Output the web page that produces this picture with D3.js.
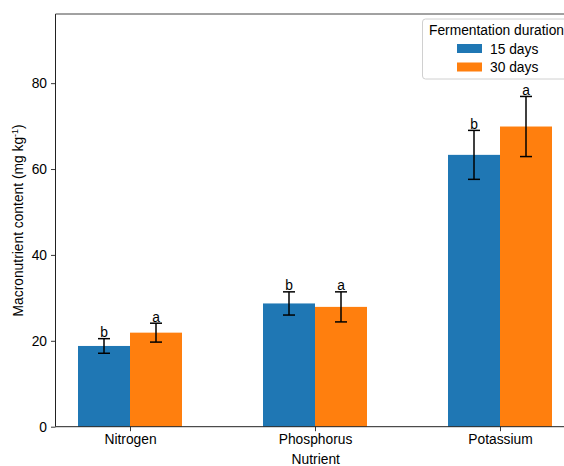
<!DOCTYPE html>
<html><head><meta charset="utf-8">
<script src="https://cdn.jsdelivr.net/npm/d3@7"></script>
<style>body{margin:0;background:#fff}svg{display:block;font-family:"Liberation Sans",Arial,sans-serif}</style>
</head><body><svg id="c" width="564" height="466"></svg>
<script>
const categories = ["Nitrogen", "Phosphorus", "Potassium"];
const seriesNames = ["15 days", "30 days"];
const values15 = [18.8, 28.7, 63.3];
const errors15 = [1.7, 2.7, 5.7];
const letters15 = ["b", "b", "b"];
const values30 = [21.9, 27.9, 69.9];
const errors30 = [2.2, 3.5, 7.0];
const letters30 = ["a", "a", "a"];
const colors = ["#1f77b4", "#ff7f0e"];
const yTicks = [0, 20, 40, 60, 80];
const legendTitle = "Fermentation duration";
const xLabel = "Nutrient";
const yLabel = "Macronutrient content (mg kg";

(function(){
const svg = d3.select("#c");
const pL = 55.5, pR = 576, pT = 14, pB = 426.7;
const x = d3.scalePoint().domain(categories).range([130, 500]);
const y = d3.scaleLinear().domain([0, 96.1]).range([pB, pT]);
const barW = 52;
const fs = "13.8px";

const series = [
  {name: seriesNames[0], vals: values15, errs: errors15, letters: letters15, color: colors[0], off: -1},
  {name: seriesNames[1], vals: values30, errs: errors30, letters: letters30, color: colors[1], off: 0}
];

series.forEach(s => {
  svg.append("g").selectAll("rect").data(categories).enter().append("rect")
    .attr("x", (c) => x(c) + s.off * barW)
    .attr("y", (c, i) => y(s.vals[i]))
    .attr("width", barW)
    .attr("height", (c, i) => y(0) - y(s.vals[i]))
    .attr("fill", s.color);
});
series.forEach(s => {
  const g = svg.append("g").attr("stroke", "#000").attr("stroke-width", 1.5);
  categories.forEach((c, i) => {
    const cx = x(c) + s.off * barW + barW / 2;
    const t = y(s.vals[i] + s.errs[i]), b = y(s.vals[i] - s.errs[i]);
    g.append("line").attr("x1", cx).attr("x2", cx).attr("y1", t).attr("y2", b);
    g.append("line").attr("x1", cx - 6).attr("x2", cx + 6).attr("y1", t).attr("y2", t);
    g.append("line").attr("x1", cx - 6).attr("x2", cx + 6).attr("y1", b).attr("y2", b);
    svg.append("text").attr("x", cx).attr("y", t - 1.5).attr("text-anchor", "middle")
      .attr("font-size", fs).attr("fill", "#000").text(s.letters[i]);
  });
});

const yAxis = svg.append("g").attr("transform", `translate(${pL},0)`)
  .call(d3.axisLeft(y).tickValues(yTicks).tickSize(4.5).tickPadding(4));
const xAxis = svg.append("g").attr("transform", `translate(0,${pB})`)
  .call(d3.axisBottom(x).tickSize(4.5).tickPadding(3));
[yAxis, xAxis].forEach(a => {
  a.select(".domain").remove();
  a.selectAll("text").attr("font-size", fs).attr("fill", "#000").attr("font-family", "Liberation Sans, Arial, sans-serif");
  a.selectAll("line").attr("stroke", "#222").attr("stroke-width", 0.9);
});
svg.append("line").attr("x1", pL).attr("x2", pL).attr("y1", pT).attr("y2", pB).attr("stroke", "#222").attr("stroke-width", 1);
svg.append("line").attr("x1", pL).attr("x2", pR).attr("y1", pB).attr("y2", pB).attr("stroke", "#222").attr("stroke-width", 1);
svg.append("line").attr("x1", pL).attr("x2", pR).attr("y1", pT).attr("y2", pT).attr("stroke", "#444").attr("stroke-width", 1);

svg.append("text").attr("x", (pL + pR) / 2).attr("y", 463.5).attr("text-anchor", "middle")
  .attr("font-size", fs).attr("fill", "#000").text(xLabel);
const yl = svg.append("text").attr("transform", `translate(23,${(pT + pB) / 2}) rotate(-90)`)
  .attr("text-anchor", "middle").attr("font-size", fs).attr("fill", "#000");
yl.append("tspan").text(yLabel);
yl.append("tspan").attr("font-size", "9px").attr("dy", -5).text("-1");
yl.append("tspan").attr("dy", 5).text(")");

const lg = svg.append("g");
lg.append("rect").attr("x", 422.5).attr("y", 19).attr("width", 160).attr("height", 60)
  .attr("rx", 3).attr("fill", "#fff").attr("fill-opacity", 0.8).attr("stroke", "#d0d0d0").attr("stroke-width", 1);
lg.append("text").attr("x", 429).attr("y", 35).attr("font-size", fs).attr("fill", "#000").text(legendTitle);
series.forEach((s, i) => {
  const cy = 48.5 + i * 18.5;
  lg.append("rect").attr("x", 457).attr("y", cy - 4.5).attr("width", 25).attr("height", 9).attr("fill", s.color);
  lg.append("text").attr("x", 490).attr("y", cy + 5).attr("font-size", fs).attr("fill", "#000").text(s.name);
});
})();
</script></body></html>
